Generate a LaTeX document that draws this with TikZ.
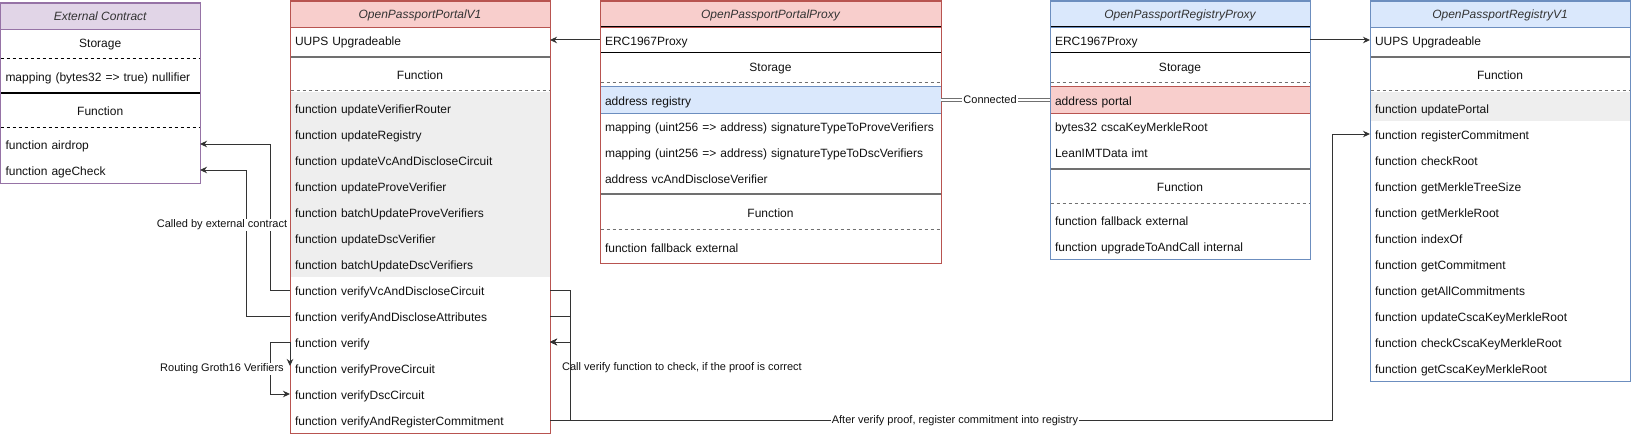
\documentclass[tikz,border=0pt]{standalone}
\usepackage{fontspec}
\setmainfont{Liberation Sans}
\usetikzlibrary{arrows.meta}
\definecolor{redfill}{HTML}{F8CECC}
\definecolor{redline}{HTML}{B85450}
\definecolor{bluefill}{HTML}{DAE8FC}
\definecolor{blueline}{HTML}{6C8EBF}
\definecolor{purfill}{HTML}{E1D5E7}
\definecolor{purline}{HTML}{9673A6}
\definecolor{grayfill}{HTML}{EEEEEE}
\definecolor{sepgray}{HTML}{707070}
\definecolor{txt}{HTML}{111111}
\definecolor{hdrtxt}{HTML}{333333}
\begin{document}
\begin{tikzpicture}[x=1pt,y=-1pt,
  every node/.style={outer sep=0pt, text=txt},
  rowfont/.style={font=\fontsize{12}{14}\selectfont, text height=11.5pt, text depth=0.5pt},
  rowA/.style={anchor=north west, minimum height=26pt, inner xsep=5pt, inner ysep=0pt, align=left, text width=#1, rowfont},
  ctr/.style={anchor=north west, minimum height=26pt, inner xsep=5pt, inner ysep=0pt, align=center, text width=#1, rowfont},
  hdr/.style={anchor=north west, minimum height=26pt, inner sep=0pt, minimum width=#1, text=hdrtxt, font=\itshape\fontsize{12}{14}\selectfont, text height=10pt, text depth=1.5pt},
  ssep/.style={draw=sepgray, line width=1.5pt},
  dsep/.style={draw=sepgray, line width=1pt, dash pattern=on 3pt off 3pt},
  esep/.style={draw=black, line width=1pt},
  edsep/.style={draw=black, line width=1pt, dash pattern=on 3pt off 3pt},
  edge/.style={draw=black!80, line width=1pt, -{Stealth[length=7pt,width=6.5pt]}},
  link/.style={draw=sepgray, line width=1.1pt, double=white, double distance=2pt},
  lbl/.style={fill=white, inner sep=1pt, font=\fontsize{11}{13}\selectfont},
  lblclear/.style={inner sep=1pt, font=\fontsize{11}{13}\selectfont}
]
\useasboundingbox (0,0) rectangle (1631,436);

% ---------------- External Contract ----------------
\node[hdr=199.5pt, fill=purfill, draw=purline] (ech) at (0.5,3) {External Contract};
\node[ctr=189.5pt] (ecs) at (0.5,29) {Storage};
\draw[edsep] (0.5,59) -- (200,59);
\node[rowA=189.5pt] (ecm) at (0.5,63) {mapping (bytes32 => true) nullifier};
\draw[esep] (0.5,93) -- (200,93);
\node[ctr=189.5pt] (ecf) at (0.5,97) {Function};
\draw[edsep] (0.5,127) -- (200,127);
\node[rowA=189.5pt] (eca) at (0.5,131) {function airdrop};
\node[rowA=189.5pt] (ecg) at (0.5,157) {function ageCheck};
\draw[purline, line width=1pt] (0.5,3) rectangle (200,183);

% ---------------- OpenPassportPortalV1 ----------------
\fill[grayfill] (290.5,92) rectangle (550,277);
\node[hdr=260pt, fill=redfill, draw=redline] (v1h) at (290,1) {OpenPassportPortalV1};
\node[rowA=250pt] (v1uups) at (290,27) {UUPS Upgradeable};
\draw[ssep] (290.5,57) -- (550,57);
\node[ctr=250pt] (v1f) at (290,61) {Function};
\draw[dsep] (290.5,91) -- (550,91);
\foreach \t [count=\i from 0] in {updateVerifierRouter,updateRegistry,updateVcAndDiscloseCircuit,updateProveVerifier,batchUpdateProveVerifiers,updateDscVerifier,batchUpdateDscVerifiers,verifyVcAndDiscloseCircuit,verifyAndDiscloseAttributes,verify,verifyProveCircuit,verifyDscCircuit,verifyAndRegisterCommitment}
  \node[rowA=250pt] (v1r\i) at (290,{95+26*\i}) {function \t};
\draw[redline, line width=1pt] (290,1) rectangle (550,433);

% ---------------- OpenPassportPortalProxy ----------------
\node[hdr=341pt, fill=redfill, draw=redline] (pph) at (600,1) {OpenPassportPortalProxy};
\node[rowA=331pt, draw=black, line width=1pt] (pperc) at (600,27) {ERC1967Proxy};
\node[ctr=331pt] (pps) at (600,53) {Storage};
\draw[dsep] (600.5,83) -- (941,83);
\node[rowA=331pt, fill=bluefill, draw=blueline, line width=1pt] (ppreg) at (600,87) {address registry};
\node[rowA=331pt] (ppm1) at (600,113) {mapping (uint256 => address) signatureTypeToProveVerifiers};
\node[rowA=331pt] (ppm2) at (600,139) {mapping (uint256 => address) signatureTypeToDscVerifiers};
\node[rowA=331pt] (ppvc) at (600,165) {address vcAndDiscloseVerifier};
\draw[ssep] (600.5,194) -- (941,194);
\node[ctr=331pt] (ppf) at (600,199) {Function};
\draw[dsep] (600.5,229) -- (941,229);
\node[rowA=331pt] (ppfb) at (600,234) {function fallback external};
\draw[redline, line width=1pt] (600,1) rectangle (941,263);

% ---------------- OpenPassportRegistryProxy ----------------
\node[hdr=260pt, fill=bluefill, draw=blueline] (rph) at (1050,1) {OpenPassportRegistryProxy};
\node[rowA=250pt, draw=black, line width=1pt] (rperc) at (1050,27) {ERC1967Proxy};
\node[ctr=250pt] (rps) at (1050,53) {Storage};
\draw[dsep] (1050.5,83) -- (1310,83);
\node[rowA=250pt, fill=redfill, draw=redline, line width=1pt] (rpportal) at (1050,87) {address portal};
\node[rowA=250pt] (rpb) at (1050,113) {bytes32 cscaKeyMerkleRoot};
\node[rowA=250pt] (rpl) at (1050,139) {LeanIMTData imt};
\draw[ssep] (1050.5,169) -- (1310,169);
\node[ctr=250pt] (rpf) at (1050,173) {Function};
\draw[dsep] (1050.5,203) -- (1310,203);
\node[rowA=250pt] (rpfb) at (1050,207) {function fallback external};
\node[rowA=250pt] (rpup) at (1050,233) {function upgradeToAndCall internal};
\draw[blueline, line width=1pt] (1050,1) rectangle (1310,259);

% ---------------- OpenPassportRegistryV1 ----------------
\fill[grayfill] (1370.5,92) rectangle (1630,121);
\node[hdr=260pt, fill=bluefill, draw=blueline] (rvh) at (1370,1) {OpenPassportRegistryV1};
\node[rowA=250pt] (rvuups) at (1370,27) {UUPS Upgradeable};
\draw[ssep] (1370.5,57) -- (1630,57);
\node[ctr=250pt] (rvf) at (1370,61) {Function};
\draw[dsep] (1370.5,91) -- (1630,91);
\foreach \t [count=\i from 0] in {updatePortal,registerCommitment,checkRoot,getMerkleTreeSize,getMerkleRoot,indexOf,getCommitment,getAllCommitments,updateCscaKeyMerkleRoot,checkCscaKeyMerkleRoot,getCscaKeyMerkleRoot}
  \node[rowA=250pt] (rvr\i) at (1370,{95+26*\i}) {function \t};
\draw[blueline, line width=1pt] (1370,1) rectangle (1630,381);

% ---------------- Connectors ----------------
\draw[edge] (pperc.west) -- (v1uups.east);
\draw[edge] (rperc.east) -- (rvuups.west);
\draw[link] (ppreg.east) -- node[lbl, pos=0.45] (lconn) {Connected} (rpportal.west);

% called by external contract
\draw[edge] (v1r7.west) -- ++(-20,0) |- (eca.east);
\draw[edge] (v1r8.west) -- ++(-44,0) |- (ecg.east);
\node[lbl] (lext) at (222,225) {Called by external contract};

% routing
\draw[edge] (v1r9.west) -- ++(-20,0) |- (v1r11.west);
\draw[edge] (v1r9.west) -- ([yshift=2pt]v1r10.west);
\node[lbl] (lrout) at (222,369) {Routing Groth16 Verifiers};

% call verify
\draw[edge] (v1r7.east) -- ++(20,0) |- (v1r9.east);
\draw[edge] (v1r8.east) -- ++(20,0) |- (v1r9.east);
\draw[edge] (v1r12.east) -- ++(20,0) |- (v1r9.east);
\node[lblclear] (lcall) at (682,368) {Call verify function to check, if the proof is correct};

% register commitment
\draw[edge] (v1r12.east) -- ++(782,0) |- (rvr1.west);
\node[lbl] (lreg) at (955,421) {After verify proof, register commitment into registry};
\end{tikzpicture}
\end{document}
